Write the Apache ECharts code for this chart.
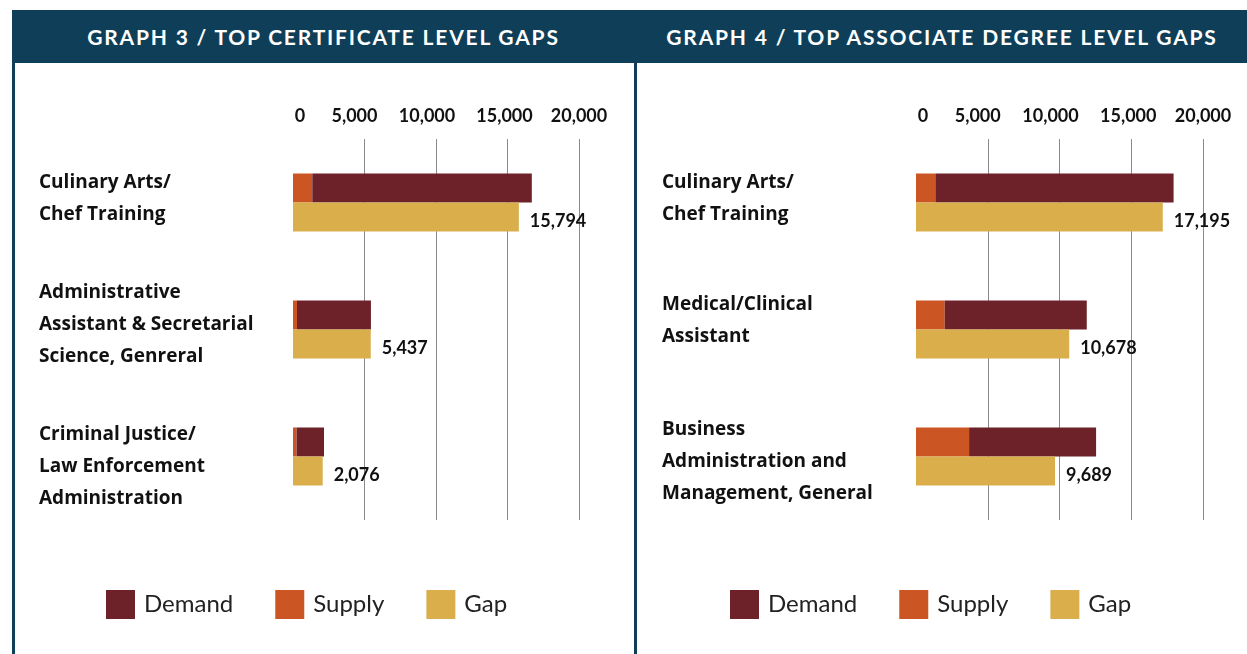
<!DOCTYPE html>
<html>
<head>
<meta charset="utf-8">
<script src="https://cdn.jsdelivr.net/npm/echarts@6/dist/echarts.min.js"></script>
<style>
    html, body { margin: 0; padding: 0; background: #fff; }
    .page { position: relative; width: 1247px; height: 654px; overflow: hidden; font-family: Lato, "Open Sans", sans-serif; }
    .head { position: absolute; left: 12px; top: 10px; width: 1235px; height: 53px; background: #0f3f58; }
    .title { position: absolute; top: 10px; height: 53px; line-height: 53px; color: #fff; font-weight: 700; font-size: 21px; letter-spacing: 1.8px; text-align: center; }
    .t1 { left: 12px; width: 623px; }
    .t2 { left: 637px; width: 610px; }
    .edge { position: absolute; top: 63px; width: 3px; height: 591px; background: #0f3f58; }
    .cert { position: absolute; left: 15px; top: 63px; width: 619px; height: 591px; }
    .assoc { position: absolute; left: 637px; top: 63px; width: 610px; height: 591px; }
</style>
</head>
<body>
<div class="page">
    <div class="head"></div>
    <div class="title t1">GRAPH 3 / TOP CERTIFICATE LEVEL GAPS</div>
    <div class="title t2">GRAPH 4 / TOP ASSOCIATE DEGREE LEVEL GAPS</div>
    <div class="edge" style="left:12px"></div>
    <div class="edge" style="left:634px"></div>
    <div class="cert"></div>
    <div class="assoc"></div>
</div>
<script>
// 证书级别
var certCategories = ['Culinary Arts/\nChef Training', 'Administrative\nAssistant & Secretarial\nScience, Genreral', 'Criminal Justice/\nLaw Enforcement\nAdministration'];
var certDemand = [16700, 5450, 2170];
var certSupply = [1350, 280, 250];
var certGap = [15794, 5437, 2076];

// 副学士级别
var assocCategories = ['Culinary Arts/\nChef Training', 'Medical/Clinical\nAssistant', 'Business\nAdministration and\nManagement, General'];
var assocDemand = [17950, 11900, 12550];
var assocSupply = [1350, 2000, 3700];
var assocGap = [17195, 10678, 9689];

var xTicks = [0, 5000, 10000, 15000, 20000];

(function () {
    var certChart = echarts.init(document.querySelector('.cert'));
    var assocChart = echarts.init(document.querySelector('.assoc'));

    function fmt(v) {
        return echarts.format.addCommas(v);
    }

    // 标签微调 (px): tick labels sideways, category labels up/down
    var tickShift = [7, -10, -9, -3, 0];

    function tickRich() {
        var rich = {};
        tickShift.forEach(function (s, i) {
            rich['t' + i] = {
                fontSize: 18,
                fontWeight: 'bold',
                color: '#111',
                fontFamily: 'Lato',
                padding: s > 0 ? [0, 0, 0, 2 * s] : [0, -2 * s, 0, 0]
            };
        });
        return rich;
    }

    // category label: a spacer line above / below moves the block
    function catRich(nudge) {
        var rich = {
            c: {
                fontFamily: 'Open Sans',
                fontSize: 19,
                fontWeight: 'bold',
                color: '#111',
                lineHeight: 32
            }
        };
        nudge.forEach(function (d, i) {
            rich['s' + i] = {
                fontSize: 1,
                lineHeight: Math.max(2 * Math.abs(d), 1),
                height: Math.max(2 * Math.abs(d), 1)
            };
        });
        return rich;
    }

    function catFormatter(nudge) {
        return function (value, index) {
            var lines = value.split('\n').map(function (l) {
                return '{c|' + l + '}';
            });
            var spacer = '{s' + index + '| }';
            if (nudge[index] < 0) {
                lines.push(spacer);
            } else if (nudge[index] > 0) {
                lines.unshift(spacer);
            }
            return lines.join('\n');
        };
    }

    function makeOption(categories, nudge, demand, supply, gap, gridLeft, gridRight, legendLeft) {
        // demand bar starts at 0, supply drawn over its first part
        var demandRest = demand.map(function (d, i) {
            return d - supply[i];
        });
        return {
            animation: false,
            color: ['#cc5524', '#6d2129', '#d9ae4b'],
            textStyle: {
                fontFamily: 'Lato'
            },
            legend: {
                data: ['Demand', 'Supply', 'Gap'],
                left: legendLeft,
                top: 527,
                padding: 0,
                icon: 'rect',
                itemWidth: 29,
                itemHeight: 29,
                itemGap: 42,
                textStyle: {
                    fontSize: 24,
                    color: '#222',
                    padding: [0, 0, 0, 4]
                }
            },
            grid: {
                left: gridLeft,
                right: gridRight,
                top: 76,
                height: 381,
                outerBoundsMode: 'none'
            },
            xAxis: {
                type: 'value',
                position: 'top',
                min: xTicks[0],
                max: xTicks[xTicks.length - 1],
                interval: 5000,
                axisLine: { show: false },
                axisTick: { show: false },
                axisLabel: {
                    margin: 14,
                    formatter: function (v) {
                        return '{t' + xTicks.indexOf(v) + '|' + fmt(v) + '}';
                    },
                    rich: tickRich()
                },
                splitLine: {
                    showMinLine: false,
                    lineStyle: { color: '#8a8a8a', width: 1 }
                }
            },
            yAxis: {
                type: 'category',
                inverse: true,
                data: categories,
                axisLine: { show: false },
                axisTick: { show: false },
                axisLabel: {
                    align: 'left',
                    margin: 254,
                    formatter: catFormatter(nudge),
                    rich: catRich(nudge)
                }
            },
            series: [{
                    name: 'Supply',
                    type: 'bar',
                    stack: 'ds',
                    barWidth: 29,
                    barGap: '0%',
                    data: supply
                },
                {
                    name: 'Demand',
                    type: 'bar',
                    stack: 'ds',
                    barWidth: 29,
                    data: demandRest
                },
                {
                    name: 'Gap',
                    type: 'bar',
                    barWidth: 29,
                    barGap: '0%',
                    label: {
                        show: true,
                        position: 'right',
                        distance: 11,
                        offset: [0, 4],
                        fontSize: 18,
                        fontWeight: 'bold',
                        color: '#111',
                        formatter: function (p) {
                            return fmt(p.value);
                        }
                    },
                    data: gap
                }
            ]
        };
    }

    certChart.setOption(makeOption(certCategories, [-4, -5, 10], certDemand, certSupply, certGap, 278, 55, 91));
    assocChart.setOption(makeOption(assocCategories, [-4, -9, 5], assocDemand, assocSupply, assocGap, 279, 44, 93));
})();
</script>
</body>
</html>
